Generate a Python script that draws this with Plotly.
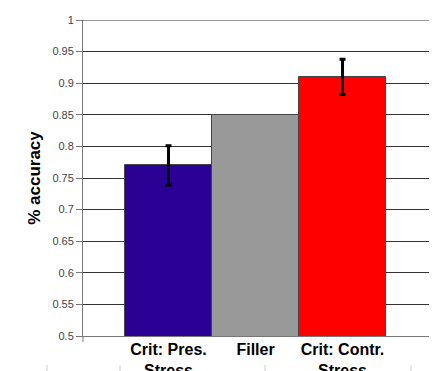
import plotly.graph_objects as go

categories = ["Crit: Pres.<br>Stress", "Filler", "Crit: Contr.<br>Stress"]
accuracy = [0.77, 0.85, 0.91]
errors = [0.031, None, 0.028]
colors = ["#2B0094", "#999999", "#FF0000"]
y_ticks = [0.5, 0.55, 0.6, 0.65, 0.7, 0.75, 0.8, 0.85, 0.9, 0.95, 1]
y_tick_text = ["0.5", "0.55", "0.6", "0.65", "0.7", "0.75", "0.8", "0.85", "0.9", "0.95", "1"]

W, H = 435, 371
L, R, T, B = 83, 6, 20, 35
pw, ph = W - L - R, H - T - B

fig = go.Figure()
for i, (c, v, e, col) in enumerate(zip(categories, accuracy, errors, colors)):
    fig.add_trace(go.Bar(
        x=[i], y=[v], width=1, marker=dict(color=col, line=dict(color="#444444", width=1)),
        error_y=dict(type="data", array=[e] if e is not None else [0], visible=e is not None,
                     color="black", thickness=3, width=3),
        showlegend=False,
    ))

shapes = []
# small tick below axis at left edge
shapes.append(dict(type="line", xref="paper", yref="paper", x0=0, x1=0, y0=0, y1=-6 / ph,
                   line=dict(color="#777777", width=1)))
for px in [47, 120, 265, 411]:
    xp = (px - L) / pw
    shapes.append(dict(type="line", xref="paper", yref="paper", x0=xp, x1=xp,
                       y0=(T + ph - 365) / ph, y1=(T + ph - 372) / ph,
                       line=dict(color="#CCCCCC", width=1)))

fig.update_layout(
    width=W, height=H,
    margin=dict(l=L, r=R, t=T, b=B),
    paper_bgcolor="white", plot_bgcolor="white",
    bargap=0,
    shapes=shapes,
    font=dict(family="Liberation Sans, Arial, sans-serif"),
    xaxis=dict(
        range=[-0.983, 2.994], tickvals=[0, 1, 2],
        ticktext=["<b>" + c + "</b>" for c in categories],
        showgrid=False, zeroline=False, showline=True, linecolor="#777777", linewidth=1,
        ticks="", tickfont=dict(size=16, color="black", family="Liberation Sans, Arial"),
        ticklabelstandoff=-1, fixedrange=True, automargin=False,
    ),
    yaxis=dict(
        range=[0.5, 1.0], tickvals=y_ticks, ticktext=y_tick_text,
        showgrid=True, gridcolor="#333333", gridwidth=1,
        zeroline=False, showline=True, linecolor="#777777", linewidth=1,
        ticks="outside", ticklen=6, tickcolor="#777777", tickwidth=1,
        tickfont=dict(size=11, color="#444444"), automargin=False,
        title=dict(text="<b>% accuracy</b>", font=dict(size=17, color="black"), standoff=7),
    ),
)
fig.add_shape(type="line", xref="paper", yref="y", x0=0, x1=1, y0=1, y1=1,
              line=dict(color="#333333", width=1))

fig.write_html("out.html")
